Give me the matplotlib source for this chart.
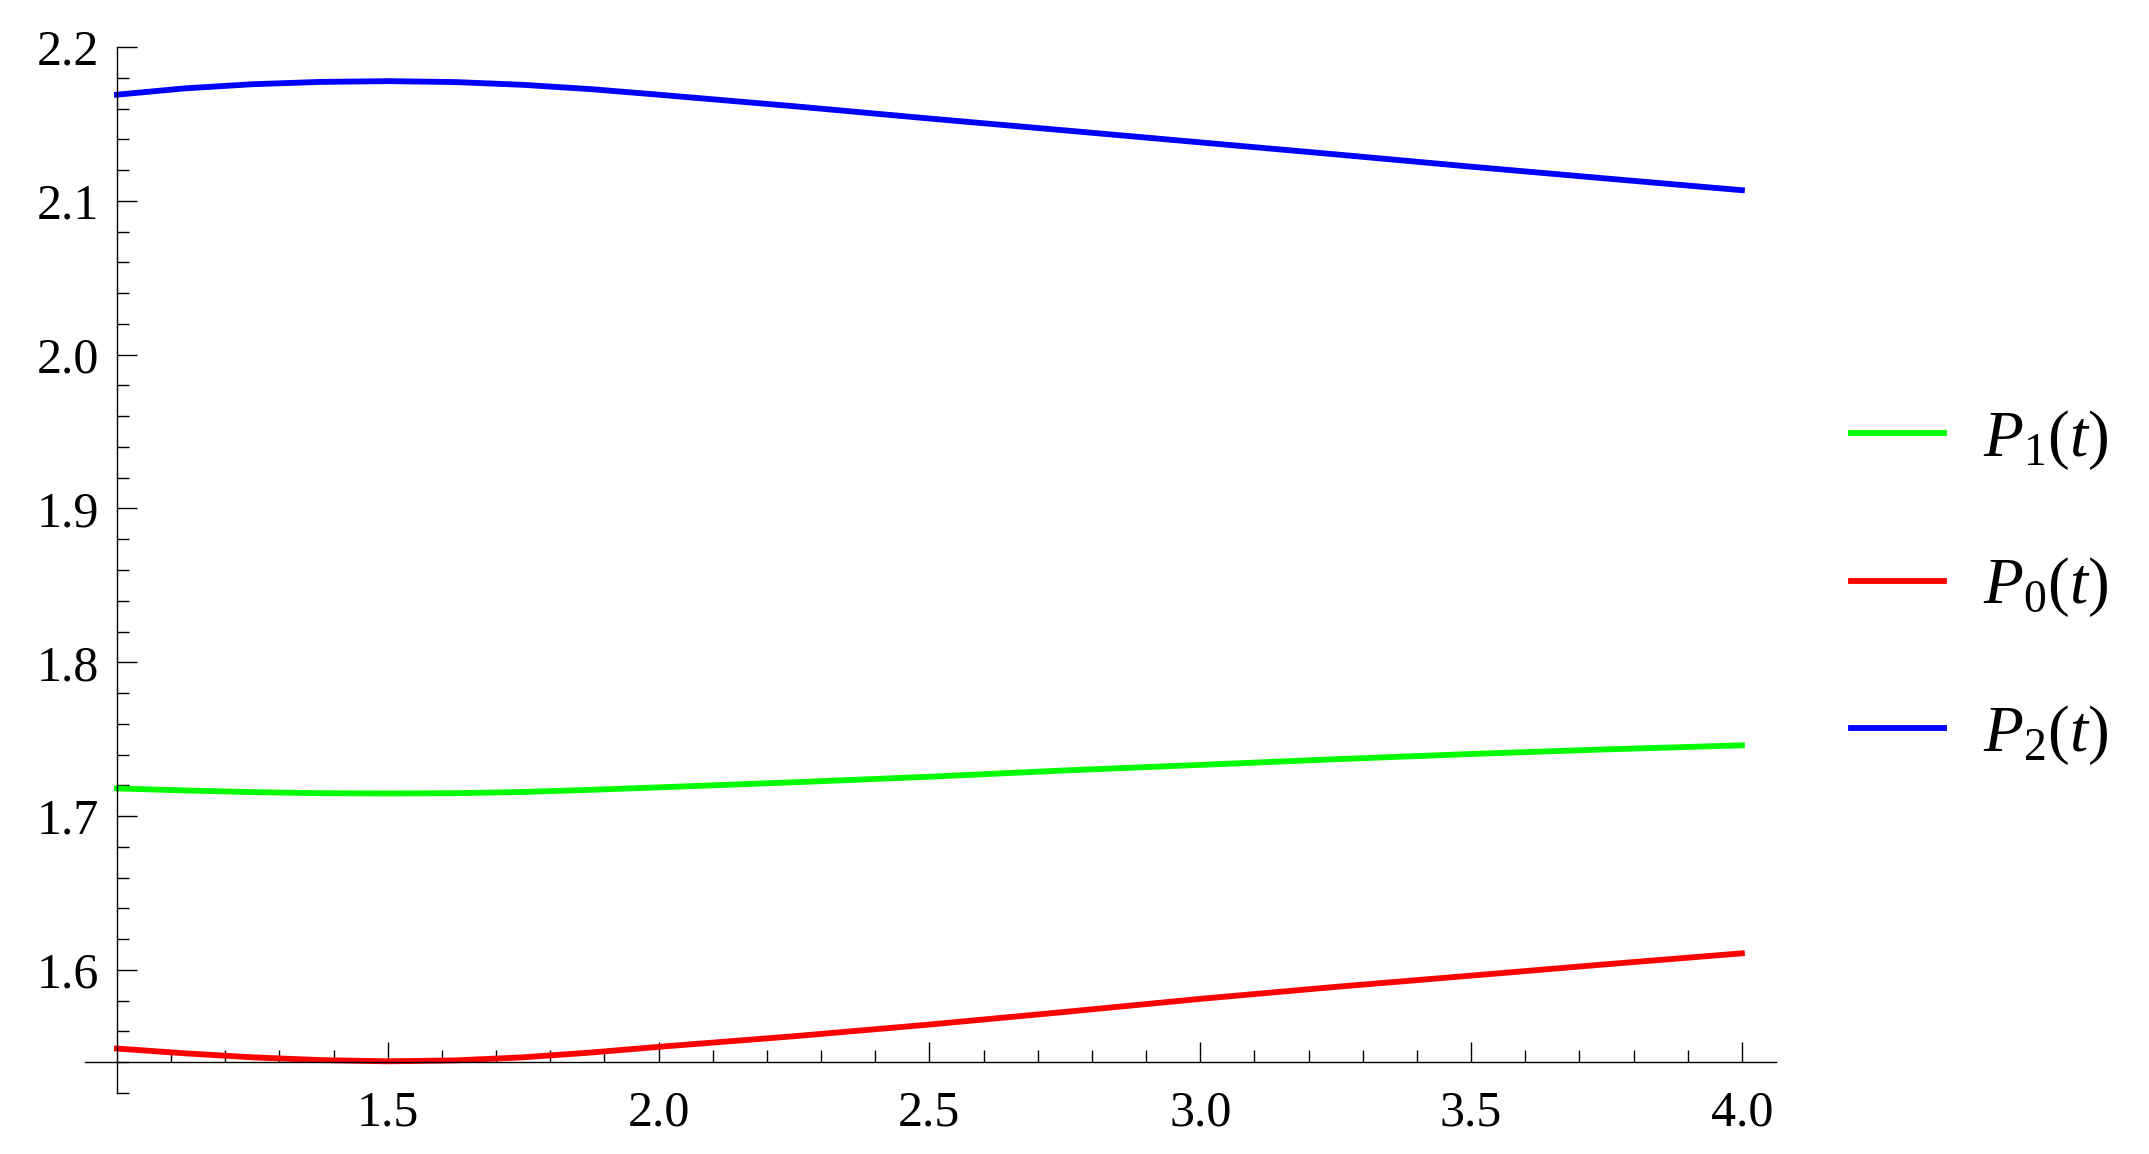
import matplotlib.pyplot as plt
from matplotlib.ticker import FixedLocator
import numpy as np

plt.rcParams['font.family'] = ['Liberation Serif', 'DejaVu Serif']
plt.rcParams['mathtext.fontset'] = 'custom'
plt.rcParams['mathtext.rm'] = 'Liberation Serif'
plt.rcParams['mathtext.it'] = 'Liberation Serif:italic'

t = [1.0, 1.125, 1.25, 1.375, 1.5, 1.625, 1.75, 1.875, 2.0,
     2.25, 2.5, 2.75, 3.0, 3.25, 3.5, 3.75, 4.0]

p2 = [2.169, 2.1731, 2.1758, 2.1773, 2.1778, 2.1772, 2.1754, 2.1726, 2.169,
      2.1615, 2.1535, 2.1458, 2.138, 2.1302, 2.1222, 2.1145, 2.1069]
p1 = [1.718, 1.7167, 1.7156, 1.7149, 1.7147, 1.7149, 1.7157, 1.7171, 1.7187,
      1.722, 1.7256, 1.7297, 1.7333, 1.737, 1.7404, 1.7434, 1.746]
p0 = [1.5489, 1.5458, 1.5432, 1.5414, 1.5406, 1.5412, 1.5432, 1.5463, 1.550,
      1.5569, 1.5645, 1.5727, 1.5812, 1.589, 1.5963, 1.6037, 1.6108]

labels = ['$P_1(t)$', '$P_0(t)$', '$P_2(t)$']

fig = plt.figure(figsize=(21.49, 11.54), dpi=100)
ax = fig.add_axes([85 / 2149, 61 / 1154, 1691 / 2149, 1046 / 1154])

lw = 4.2
l1, = ax.plot(t, p1, color='#00ff00', lw=lw)
l0, = ax.plot(t, p0, color='#ff0000', lw=lw)
l2, = ax.plot(t, p2, color='#0000ff', lw=lw)

ax.set_xlim(0.941, 4.063)
ax.set_ylim(1.52, 2.2)

for s in ['top', 'right']:
    ax.spines[s].set_visible(False)
ax.spines['left'].set_position(('data', 1.0))
ax.spines['bottom'].set_position(('data', 1.54))
for s in ['left', 'bottom']:
    ax.spines[s].set_linewidth(1.0)

ax.xaxis.set_major_locator(FixedLocator([1.5, 2.0, 2.5, 3.0, 3.5, 4.0]))
ax.xaxis.set_minor_locator(FixedLocator(np.arange(1.1, 4.0, 0.1)))
ax.yaxis.set_major_locator(FixedLocator([1.6, 1.7, 1.8, 1.9, 2.0, 2.1, 2.2]))
ax.yaxis.set_minor_locator(FixedLocator(np.arange(1.52, 2.19, 0.02)))
ax.xaxis.set_major_formatter(plt.FormatStrFormatter('%.1f'))
ax.yaxis.set_major_formatter(plt.FormatStrFormatter('%.1f'))

ax.tick_params(which='both', direction='in', width=1.0, labelsize=36)
ax.tick_params(axis='x', which='major', length=14.4, pad=20)
ax.tick_params(axis='x', which='minor', length=8.6)
ax.tick_params(axis='y', which='major', length=14.4, pad=13)
ax.tick_params(axis='y', which='minor', length=8.6)

fig.legend([l1, l0, l2], labels, loc='center left',
           bbox_to_anchor=(1851 / 2149, 0.491), frameon=False,
           fontsize=47, handlelength=1.42, handletextpad=0.6,
           labelspacing=1.28, borderpad=0, borderaxespad=0)

fig.savefig('out.png', dpi=100)
